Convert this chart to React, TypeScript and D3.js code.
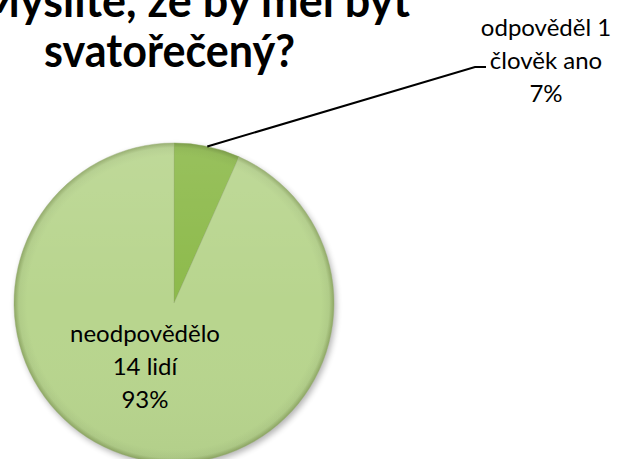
import React from "react";
import * as d3 from "d3";

const titleLines = ["Myslíte, že by měl být", "svatořečený?"];
const categories = ["odpověděl 1 člověk ano", "neodpovědělo 14 lidí"];
const values = [1, 14];
const labelLines = [
  ["odpověděl 1", "člověk ano"],
  ["neodpovědělo", "14 lidí"],
];
const sliceColors = ["#8dba4b", "#b8d58e"];
const rimColors = ["#6f9238", "#8ea764"];

const W = 619;
const H = 459;
const cx = 174;
const cy = 303;
const R = 160;

export default function App() {
  const total = d3.sum(values);
  const pie = d3
    .pie<number>()
    .sort(null)
    .startAngle(0)
    .endAngle(2 * Math.PI)
    .value((d) => d);
  const arcs = pie(values);
  const arc = d3.arc<d3.PieArcDatum<number>>().innerRadius(0).outerRadius(R);
  const fmt = (v: number) => `${Math.round((v / total) * 100)}%`;

  const a0 = arcs[0];
  const mid0 = (a0.startAngle + a0.endAngle) / 2;
  const lx = cx + Math.sin(mid0) * R;
  const ly = cy - Math.cos(mid0) * R;

  const font = "Lato, 'Open Sans', sans-serif";

  return (
    <svg
      width={W}
      height={H}
      style={{ position: "absolute", left: 0, top: 0, display: "block" }}
      xmlns="http://www.w3.org/2000/svg"
    >
      <defs>
        {sliceColors.map((c, i) => (
          <radialGradient
            key={i}
            id={`g${i}`}
            gradientUnits="userSpaceOnUse"
            cx={0}
            cy={0}
            r={R}
          >
            <stop offset="0" stopColor={c} />
            <stop offset="0.92" stopColor={c} />
            <stop offset="0.97" stopColor={d3.color(c)!.darker(0.12).toString()} />
            <stop offset="1" stopColor={rimColors[i]} />
          </radialGradient>
        ))}
        <linearGradient id="sheen" gradientUnits="userSpaceOnUse" x1="0" y1={-R} x2="0" y2={R}>
          <stop offset="0" stopColor="#ffffff" stopOpacity="0.1" />
          <stop offset="0.5" stopColor="#ffffff" stopOpacity="0" />
          <stop offset="1" stopColor="#000000" stopOpacity="0.03" />
        </linearGradient>
        <filter id="blur" x="-20%" y="-20%" width="140%" height="140%">
          <feGaussianBlur stdDeviation="3" />
        </filter>
      </defs>
      <rect width={W} height={H} fill="#ffffff" />

      <g transform={`translate(${cx},${cy})`}>
        <circle cx={2} cy={3} r={R} fill="#000" opacity={0.3} filter="url(#blur)" />
        {arcs.map((d, i) => (
          <path
            key={categories[i]}
            d={arc(d) || ""}
            fill={`url(#g${i})`}
            stroke={d3.color(sliceColors[i])!.darker(0.5).toString()}
            strokeWidth={0.8}
            strokeOpacity={0.5}
          />
        ))}
        {arcs.map((d, i) => (
          <path key={"s" + i} d={arc(d) || ""} fill="url(#sheen)" />
        ))}
      </g>

      <polyline
        points={`${lx},${ly} 475,67 486,67`}
        fill="none"
        stroke="#000"
        strokeWidth={2}
      />

      <g fontFamily={font} fontWeight="bold" fontSize={45} fill="#000">
        <text x={-22} y={17} textLength={432} lengthAdjust="spacingAndGlyphs">
          {titleLines[0]}
        </text>
        <text x={44} y={67} textLength={251} lengthAdjust="spacingAndGlyphs">
          {titleLines[1]}
        </text>
      </g>

      <g fontFamily={font} fontSize={24} fill="#000" textAnchor="middle">
        <text x={546} y={36}>{labelLines[0][0]}</text>
        <text x={546} y={69}>{labelLines[0][1]}</text>
        <text x={546} y={102}>{fmt(values[0])}</text>
      </g>
      <g fontFamily={font} fontSize={24} fill="#000" textAnchor="middle">
        <text x={145} y={342}>{labelLines[1][0]}</text>
        <text x={145} y={375}>{labelLines[1][1]}</text>
        <text x={145} y={408}>{fmt(values[1])}</text>
      </g>
    </svg>
  );
}
